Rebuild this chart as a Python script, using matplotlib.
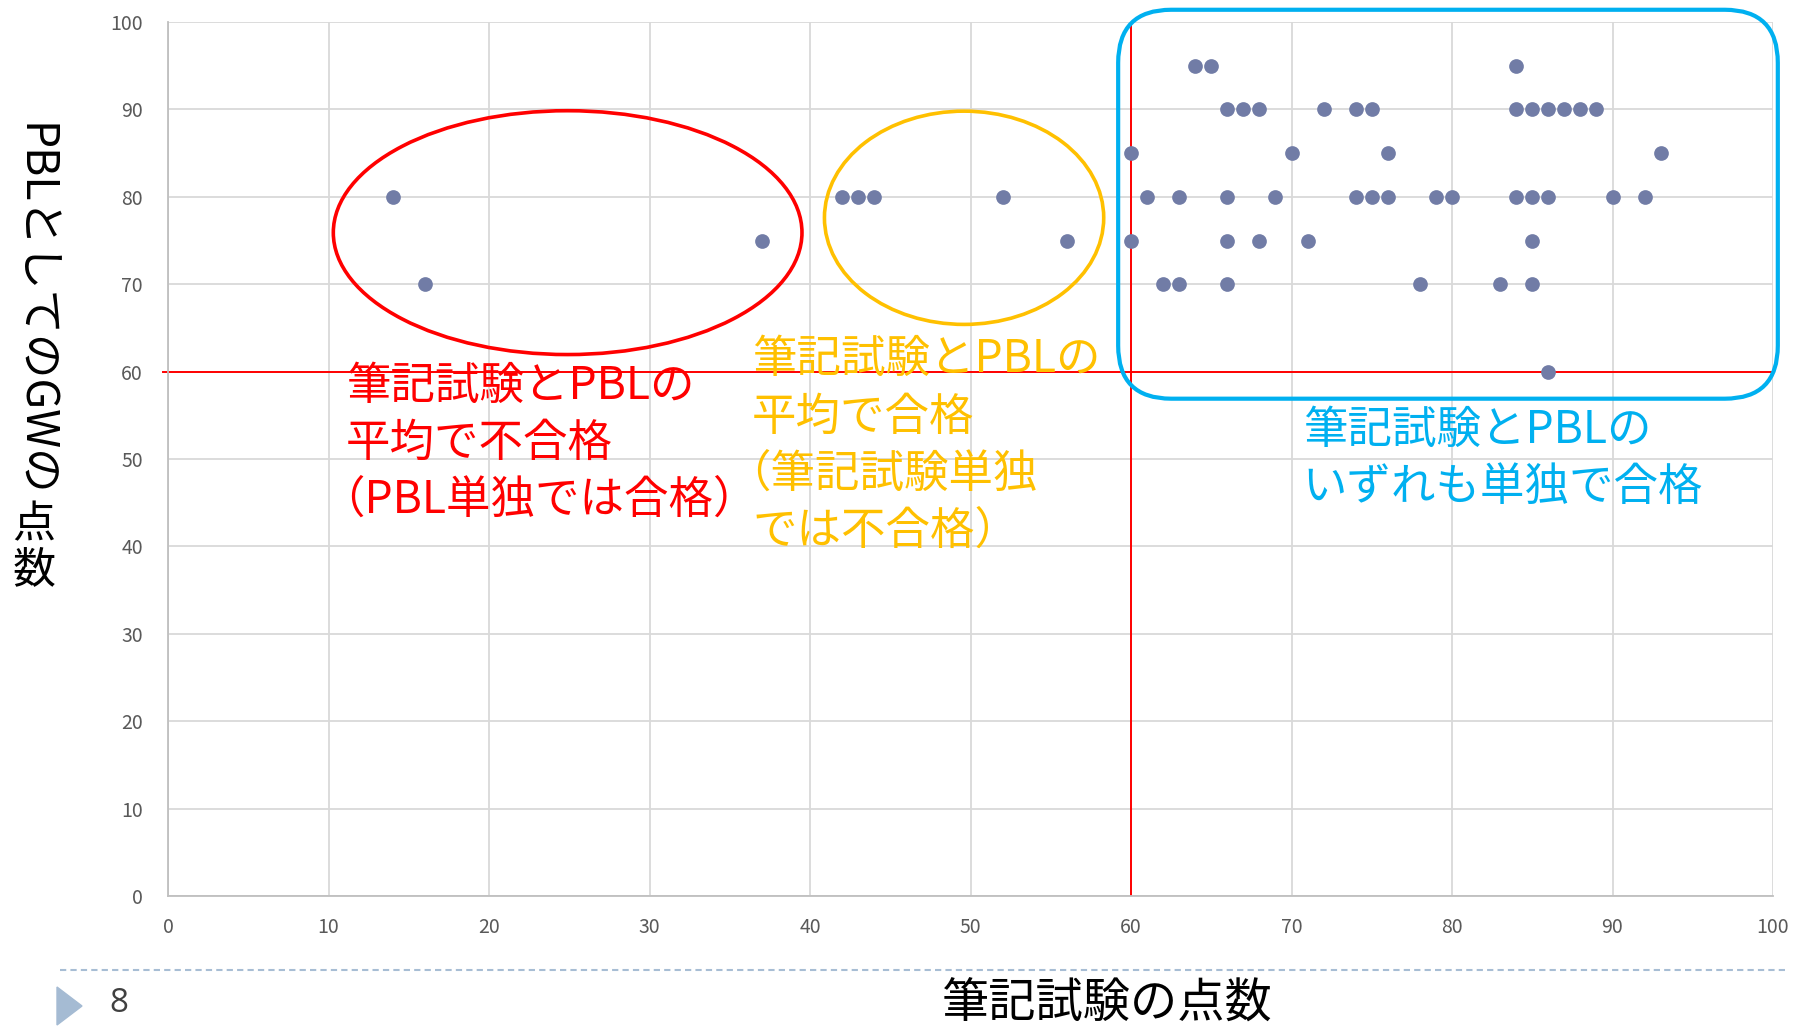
import numpy as np
import matplotlib.pyplot as plt
from matplotlib.patches import Ellipse, FancyBboxPatch, Polygon
from matplotlib.lines import Line2D

plt.rcParams['font.family'] = ['Noto Sans CJK JP', 'DejaVu Sans']

# scores: written exam (x) vs PBL group work (y)
written = [14, 16, 37, 42, 43, 44, 52, 56,
           64, 65, 84,
           66, 67, 68, 72, 74, 75, 84, 85, 86, 87, 88, 89,
           60, 70, 76, 93,
           61, 63, 66, 69, 74, 75, 76, 79, 80, 84, 85, 86, 90, 92,
           60, 66, 68, 71, 85,
           62, 63, 66, 78, 83, 85,
           86]
pbl = [80, 70, 75, 80, 80, 80, 80, 75,
       95, 95, 95,
       90, 90, 90, 90, 90, 90, 90, 90, 90, 90, 90, 90,
       85, 85, 85, 85,
       80, 80, 80, 80, 80, 80, 80, 80, 80, 80, 80, 80, 80, 80,
       75, 75, 75, 75, 75,
       70, 70, 70, 70, 70, 70,
       60]

ticks = np.arange(0, 101, 10)
pass_line = 60

red_note = ["筆記試験とPBLの", "平均で不合格", "（PBL単独では合格）"]
yellow_note = ["筆記試験とPBLの", "平均で合格", "（筆記試験単独", "では不合格）"]
blue_note = ["筆記試験とPBLの", "いずれも単独で合格"]

RED = '#FF0000'
YELLOW = '#FFC000'
BLUE = '#00B0F0'

W, H = 1795, 1027
fig = plt.figure(figsize=(W / 100, H / 100), dpi=100)
ax = fig.add_axes([168 / W, 1 - 896 / H, (1773 - 168) / W, (896 - 22) / H])

ax.set_xlim(0, 100)
ax.set_ylim(0, 100)
ax.set_xticks(ticks)
ax.set_yticks(ticks)
ax.grid(True, color='#D9D9D9', lw=1.3)
ax.set_axisbelow(True)
for s in ['top', 'right']:
    ax.spines[s].set_visible(False)
for s in ['left', 'bottom']:
    ax.spines[s].set_color('#BFBFBF')
    ax.spines[s].set_linewidth(1.3)
ax.tick_params(length=0, labelsize=14, labelcolor='#595959')
ax.tick_params(axis='x', pad=15)
ax.tick_params(axis='y', pad=18)

ax.scatter(written, pbl, s=112, color='#717CA6', zorder=3, linewidths=0)

ax.axvline(pass_line, color=RED, lw=1.4, zorder=2)
ax.plot([-0.3, 100], [pass_line, pass_line], color=RED, lw=1.4, zorder=2, clip_on=False)

# group outlines
ax.add_patch(Ellipse((24.9, 75.9), 29.2, 27.9, fill=False, ec=RED, lw=2.6, clip_on=False, zorder=4))
ax.add_patch(Ellipse((49.6, 77.6), 17.4, 24.4, fill=False, ec=YELLOW, lw=2.6, clip_on=False, zorder=4))
ax.add_patch(FancyBboxPatch((59.2, 56.9), 41.1, 44.5,
                            boxstyle='round,pad=0,rounding_size=3.3',
                            mutation_aspect=1.84, fill=False, ec=BLUE, lw=3,
                            clip_on=False, zorder=4))


def note(lines, x, y, color, step=6.55):
    for i, line in enumerate(lines):
        dx = -1.6 if line.startswith("（") else 0
        ax.text(x + dx, y - i * step, line, color=color, fontsize=32,
                va='center', ha='left', zorder=5)


note(red_note, 11.1, 58.4, RED)
note(yellow_note, 36.4, 61.4, YELLOW)
note(blue_note, 70.7, 53.3, BLUE)

# y label: rotated part plus upright kanji
fig.text(34 / W, 1 - 310 / H, "PBLとしてのGWの", rotation=-90, fontsize=32,
         ha='center', va='center', color='black')
fig.text(34 / W, 1 - 525 / H, "点", fontsize=31, ha='center', va='center', color='black')
fig.text(34 / W, 1 - 570 / H, "数", fontsize=31, ha='center', va='center', color='black')

fig.text(1107 / W, 1 - 1004 / H, "筆記試験の点数", fontsize=34, ha='center', va='center', color='black')

# slide footer
fig.add_artist(Line2D([60 / W, 1788 / W], [1 - 970 / H, 1 - 970 / H], color='#A7BDD4',
                      lw=1.5, ls=(0, (3, 2))))
fig.add_artist(Polygon([[57 / W, 1 - 987 / H], [82 / W, 1 - 1006 / H], [57 / W, 1 - 1025 / H]],
                       closed=True, color='#A5BBD3'))
fig.text(119 / W, 1 - 1004 / H, "8", fontsize=24, ha='center', va='center', color='#404040',
         family=['Open Sans', 'DejaVu Sans'])

fig.savefig('out.png', dpi=100)
